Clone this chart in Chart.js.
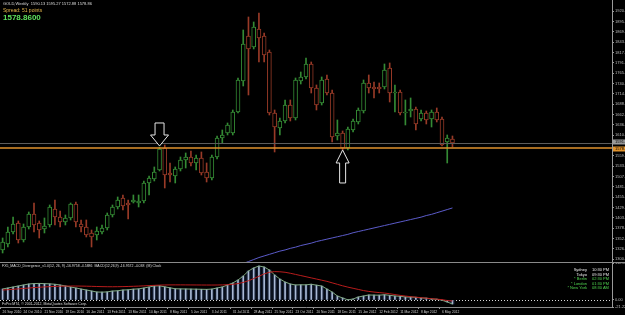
<!DOCTYPE html>
<html>
<head>
<meta charset="utf-8">
<script src="https://cdn.jsdelivr.net/npm/chart.js@4.4.0/dist/chart.umd.min.js"></script>
<style>
  html, body { margin: 0; padding: 0; background: #000; width: 625px; height: 315px; overflow: hidden; }
  body { font-family: "Liberation Sans", Arial, sans-serif; position: relative; }
  #main { position: absolute; left: 0; top: 0; width: 625px; height: 262px; border-bottom: 1px solid #8a8a8a; }
  #macd { position: absolute; left: 0; top: 263px; width: 625px; height: 52px; }
  .txt { position: absolute; white-space: nowrap; transform-origin: left top; }
  .clock { position: absolute; left: 560px; top: 268px; font-size: 4px; line-height: 4.6px; }
  .clock div { white-space: nowrap; }
  .clock span.n { display: inline-block; width: 27px; text-align: right; }
  .clock span.t { display: inline-block; margin-left: 5px; }
</style>
</head>
<body>
<div id="main"><canvas id="mainChart" width="625" height="262"></canvas></div>
<div id="macd"><canvas id="macdChart" width="625" height="52"></canvas></div>

<div class="txt" style="left:3px;top:1px;font-size:4px;color:#ddd;">GOLD,Weekly&nbsp; 1590.13 1595.27 1572.88 1578.86</div>
<div class="txt" style="left:3px;top:7px;font-size:5px;color:#e3b54a;">Spread: 51 points</div>
<div class="txt" style="left:3px;top:13px;font-size:8px;font-weight:bold;color:#5ee05e;">1578.8600</div>
<div class="txt" style="left:2px;top:264px;font-size:3.5px;color:#ddd;">FX5_MACD_Divergence_v1.0(12, 26, 9) -16.9758 -4.5886&nbsp; MACD(12,26,9) -16.9572 -4.038&nbsp; (M) Clock</div>
<div class="txt" style="left:2px;top:302px;font-size:3.5px;color:#ddd;">FxPro MT4, © 2001-2012, MetaQuotes Software Corp.</div>
<div class="clock">
  <div style="color:#e8e8e8"><span class="n">Sydney</span><span class="t">10:30 PM</span></div>
  <div style="color:#e8e8e8"><span class="n">Tokyo</span><span class="t">09:30 PM</span></div>
  <div style="color:#4fd34f"><span class="n">* Berlin</span><span class="t">02:30 PM</span></div>
  <div style="color:#4fd34f"><span class="n">* London</span><span class="t">01:30 PM</span></div>
  <div style="color:#4fd34f"><span class="n">* New York</span><span class="t">08:30 AM</span></div>
</div>

<script>
// GOLD weekly candles, 26 Sep 2010 .. 20 May 2012
const opens = [
  1323.9, 1338.9, 1368.9, 1391.4, 1348.9, 1381.4, 1413.9, 1391.4, 1376.4, 1386.4,
  1426.4, 1406.4, 1393.9, 1403.9, 1438.9, 1388.9, 1381.4, 1366.4, 1361.4, 1368.9,
  1378.9, 1411.4, 1431.4, 1453.9, 1441.4, 1443.9, 1441.4, 1446.4, 1491.4, 1501.4,
  1523.9, 1578.9, 1516.4, 1508.9, 1526.4, 1548.9, 1556.4, 1541.4, 1553.9, 1518.9,
  1503.9, 1556.4, 1603.9, 1616.4, 1616.4, 1668.9, 1746.4, 1858.9, 1831.4, 1876.4,
  1858.9, 1818.9, 1666.4, 1628.9, 1646.4, 1686.4, 1653.9, 1746.4, 1756.4, 1788.9,
  1728.9, 1691.4, 1751.4, 1716.4, 1608.9, 1616.4, 1578.9, 1623.9, 1643.9, 1671.4,
  1741.4, 1731.4, 1731.4, 1731.4, 1778.9, 1716.4, 1718.9, 1666.4, 1671.4, 1676.4,
  1651.4, 1666.4, 1651.4, 1668.9, 1651.4, 1593.9, 1601.4
];
const highs = [
  1353.9, 1381.4, 1406.4, 1396.4, 1388.9, 1418.9, 1441.4, 1396.4, 1403.9, 1436.4,
  1448.9, 1421.4, 1411.4, 1441.4, 1443.9, 1398.9, 1398.9, 1373.9, 1381.4, 1386.4,
  1416.4, 1436.4, 1456.4, 1461.4, 1448.9, 1461.4, 1461.4, 1496.4, 1508.9, 1531.4,
  1581.4, 1586.4, 1541.4, 1531.4, 1556.4, 1566.4, 1571.4, 1561.4, 1568.9, 1541.4,
  1561.4, 1608.9, 1623.9, 1641.4, 1673.9, 1753.9, 1873.9, 1906.4, 1893.9, 1916.4,
  1866.4, 1823.9, 1673.9, 1653.9, 1698.9, 1698.9, 1753.9, 1768.9, 1803.9, 1793.9,
  1736.4, 1756.4, 1761.4, 1723.9, 1648.9, 1621.4, 1631.4, 1651.4, 1678.9, 1748.9,
  1761.4, 1743.9, 1741.4, 1788.9, 1791.4, 1736.4, 1723.9, 1698.9, 1703.9, 1681.4,
  1673.9, 1671.4, 1673.9, 1678.9, 1656.4, 1611.4, 1608.9
];
const lows = [
  1316.4, 1331.4, 1363.9, 1341.4, 1343.9, 1376.4, 1368.9, 1353.9, 1366.4, 1381.4,
  1386.4, 1381.4, 1386.4, 1398.9, 1381.4, 1368.9, 1356.4, 1331.4, 1348.9, 1363.9,
  1373.9, 1406.4, 1426.4, 1423.9, 1401.4, 1441.4, 1431.4, 1441.4, 1461.4, 1496.4,
  1521.4, 1478.9, 1493.9, 1491.4, 1521.4, 1528.9, 1533.9, 1523.9, 1511.4, 1493.9,
  1498.9, 1551.4, 1591.4, 1611.4, 1611.4, 1666.4, 1733.9, 1711.4, 1826.4, 1793.9,
  1793.9, 1661.4, 1568.9, 1611.4, 1641.4, 1646.4, 1648.9, 1738.9, 1751.4, 1716.4,
  1673.9, 1686.4, 1711.4, 1593.9, 1598.9, 1573.9, 1573.9, 1618.9, 1638.9, 1666.4,
  1716.4, 1703.9, 1716.4, 1726.4, 1693.9, 1668.9, 1661.4, 1636.4, 1656.4, 1623.9,
  1646.4, 1638.9, 1631.4, 1643.9, 1583.9, 1541.4, 1581.4
];
const closes = [
  1343.9, 1368.9, 1388.9, 1348.9, 1381.4, 1413.9, 1386.4, 1373.9, 1383.9, 1431.4,
  1406.4, 1393.9, 1403.9, 1438.9, 1393.9, 1381.4, 1361.4, 1356.4, 1371.4, 1378.9,
  1411.4, 1431.4, 1448.9, 1433.9, 1436.4, 1448.9, 1446.4, 1491.4, 1503.9, 1518.9,
  1576.4, 1511.4, 1511.4, 1526.4, 1548.9, 1556.4, 1541.4, 1553.9, 1516.4, 1503.9,
  1556.4, 1603.9, 1611.4, 1636.4, 1668.9, 1748.9, 1838.9, 1826.4, 1881.4, 1853.9,
  1811.4, 1666.4, 1631.4, 1646.4, 1686.4, 1653.9, 1748.9, 1756.4, 1788.9, 1728.9,
  1686.4, 1748.9, 1716.4, 1606.4, 1616.4, 1578.9, 1626.4, 1646.4, 1673.9, 1741.4,
  1728.9, 1726.4, 1726.4, 1773.9, 1716.4, 1718.9, 1666.4, 1668.9, 1676.4, 1638.9,
  1666.4, 1648.9, 1668.9, 1648.9, 1586.4, 1603.9, 1591.4
];
// long moving average (blue line), off the bottom of the window before bar 44
const maLine = [
  null, null, null, null, null, null, null, null, null, null,
  null, null, null, null, null, null, null, null, null, null,
  null, null, null, null, null, null, null, null, null, null,
  null, null, null, null, null, null, null, null, null, null,
  null, null, null, null, 1280, 1285, 1290, 1295, 1300, 1305,
  1309, 1313, 1317, 1321, 1324, 1328, 1331, 1335, 1338, 1341,
  1345, 1348, 1351, 1354, 1357, 1360, 1363, 1367, 1370, 1373,
  1376, 1379, 1382, 1385, 1388, 1391, 1394, 1397, 1400, 1403,
  1406, 1410, 1413, 1417, 1421, 1425, 1429
];
const macdMain = [
  33.3, 36.4, 39.4, 42.4, 45.5, 48.5, 49.8, 50.2, 49.6, 48.9,
  47.8, 45.5, 42.4, 39.4, 36.4, 33.3, 30.3, 27.3, 24.2, 23.8,
  24.6, 27.1, 28.0, 30.3, 30.8, 32.9, 33.6, 36.4, 39.4, 42.4,
  43.0, 39.8, 36.9, 34.1, 33.6, 33.4, 33.1, 32.8, 32.5, 32.2,
  33.0, 36.4, 39.4, 45.5, 51.5, 60.6, 72.7, 87.9, 97.0, 103.0,
  100.0, 90.9, 75.8, 63.6, 54.5, 48.5, 45.5, 46.1, 45.9, 47.8,
  45.0, 42.4, 33.3, 24.2, 12.1, 6.1, 0.5, 3.0, 9.1, 12.1,
  15.2, 14.8, 14.6, 15.9, 14.2, 12.1, 11.4, 9.1, 8.8, 8.3,
  6.1, 5.6, 3.0, 2.4, -0.6, -6.1, -12.1
];
const macdSignal = [
  30.3, 31.2, 32.4, 33.6, 34.9, 36.2, 37.5, 38.6, 39.6, 40.5,
  41.2, 41.8, 42.1, 42.3, 42.3, 42.1, 41.8, 41.4, 40.9, 40.5,
  40.2, 40.1, 40.3, 40.6, 41.0, 41.5, 42.1, 42.8, 43.6, 44.4,
  45.1, 45.5, 45.7, 45.8, 45.8, 45.7, 45.6, 45.5, 45.4, 45.3,
  45.3, 45.4, 45.7, 46.3, 47.5, 49.7, 53.3, 58.4, 64.8, 72.0,
  79.0, 84.0, 86.0, 85.5, 84.0, 81.0, 77.5, 74.0, 70.5, 67.0,
  63.5, 60.0, 56.5, 52.0, 47.5, 43.0, 39.0, 35.5, 32.0, 28.5,
  26.0, 24.0, 22.5, 21.0, 19.0, 16.5, 14.0, 12.0, 10.0, 8.5,
  7.0, 5.5, 4.0, 2.5, 1.0, -1.5, -3.0
];
// one date label every 4 bars
const dateLabels = [
  '26 Sep 2010', '24 Oct 2010', '21 Nov 2010', '19 Dec 2010', '16 Jan 2011', '13 Feb 2011',
  '13 Mar 2011', '10 Apr 2011', '8 May 2011', '5 Jun 2011', '3 Jul 2011', '31 Jul 2011',
  '28 Aug 2011', '25 Sep 2011', '23 Oct 2011', '20 Nov 2011', '18 Dec 2011', '15 Jan 2012',
  '12 Feb 2012', '11 Mar 2012', '8 Apr 2012', '6 May 2012'
];
const priceTicks = [
  1920.95, 1895.10, 1869.25, 1843.40, 1817.55, 1791.70, 1765.85, 1740.00, 1714.15, 1688.30,
  1662.45, 1636.60, 1610.75, 1559.05, 1533.20, 1507.35, 1481.50, 1455.65, 1429.80, 1403.95,
  1378.10, 1352.25, 1326.40, 1300.55
];
const macdTicks = [112.09, 0, -21.224];
const orangeLevel = 1578.86;
const bidLevel = 1591.40;
const arrowMarks = [
  { bar: 30, price: 1583.9, dir: 'down' },
  { bar: 65, price: 1573.9, dir: 'up' }
];
const totalSlots = 117; // bars + empty shift area on the right

const slots = Array.from({ length: totalSlots }, (_, i) => i);
const candleCol = opens.map((o, i) => (closes[i] >= o ? '#348a34' : '#983a27'));
const tinyFont = { family: '"Liberation Sans", Arial, sans-serif', size: 4 };

function drawArrow(ctx, tx, ty, dir) {
  const s = dir === 'down' ? -1 : 1;
  const hw = dir === 'down' ? 9 : 6.5;   // head half width
  const sw = dir === 'down' ? 4.5 : 3;   // shaft half width
  const hh = dir === 'down' ? 11 : 13;   // head height
  const len = dir === 'down' ? 23 : 33;
  ctx.beginPath();
  ctx.moveTo(tx, ty);
  ctx.lineTo(tx + hw, ty + s * hh);
  ctx.lineTo(tx + sw, ty + s * hh);
  ctx.lineTo(tx + sw, ty + s * len);
  ctx.lineTo(tx - sw, ty + s * len);
  ctx.lineTo(tx - sw, ty + s * hh);
  ctx.lineTo(tx - hw, ty + s * hh);
  ctx.closePath();
  ctx.fillStyle = '#000';
  ctx.fill();
  ctx.strokeStyle = '#e6e6e6';
  ctx.lineWidth = 1;
  ctx.stroke();
}

function axisBox(ctx, left, yc, bg, fg, text) {
  ctx.fillStyle = bg;
  ctx.fillRect(left, yc - 2.5, 625 - left, 5);
  ctx.fillStyle = fg;
  ctx.font = '4px "Liberation Sans", Arial, sans-serif';
  ctx.textBaseline = 'middle';
  ctx.fillText(text, left + 2, yc);
}

const levelsPlugin = {
  id: 'levels',
  afterDatasetsDraw(chart) {
    const { ctx, chartArea: a, scales: { x, y } } = chart;
    ctx.save();
    const yb = Math.round(y.getPixelForValue(bidLevel)) + 0.5;
    ctx.strokeStyle = '#5c5c5c';
    ctx.lineWidth = 1;
    ctx.beginPath(); ctx.moveTo(a.left, yb); ctx.lineTo(a.right, yb); ctx.stroke();
    const yo = Math.round(y.getPixelForValue(orangeLevel));
    ctx.strokeStyle = '#e0922c';
    ctx.lineWidth = 1.6;
    ctx.beginPath(); ctx.moveTo(a.left, yo); ctx.lineTo(a.right, yo); ctx.stroke();
    arrowMarks.forEach((m) => {
      drawArrow(ctx, x.getPixelForValue(m.bar), y.getPixelForValue(m.price), m.dir);
    });
    ctx.restore();
  },
  afterDraw(chart) {
    const { ctx, chartArea: a, scales: { y } } = chart;
    ctx.save();
    axisBox(ctx, a.right + 1, y.getPixelForValue(bidLevel) - 1, '#9a9a9a', '#000', bidLevel.toFixed(2));
    axisBox(ctx, a.right + 1, y.getPixelForValue(orangeLevel) + 1, '#e0922c', '#000', orangeLevel.toFixed(2));
    ctx.restore();
  }
};

new Chart(document.getElementById('mainChart'), {
  type: 'bar',
  data: {
    labels: slots,
    datasets: [
      { type: 'line', data: maLine, borderColor: '#5b5bc9', borderWidth: 1, pointRadius: 0, order: 0 },
      {
        data: opens.map((o, i) => [lows[i], highs[i]]),
        backgroundColor: candleCol, barThickness: 1, grouped: false, order: 2
      },
      {
        data: opens.map((o, i) => [o, closes[i]]),
        backgroundColor: '#000', borderColor: candleCol, borderWidth: 1,
        borderSkipped: false, barThickness: 4, grouped: false, order: 1
      }
    ]
  },
  options: {
    responsive: false,
    animation: false,
    layout: { padding: 0 },
    plugins: { legend: { display: false }, tooltip: { enabled: false } },
    scales: {
      x: { display: false, offset: true },
      y: {
        position: 'right',
        min: 1293.86,
        max: 1948.86,
        afterBuildTicks: (s) => { s.ticks = priceTicks.map((v) => ({ value: v })); },
        afterFit: (s) => { s.width = 13; s.paddingTop = 0; s.paddingBottom = 0; },
        ticks: { font: tinyFont, color: '#bdbdbd', padding: 1, callback: (v) => v.toFixed(2) },
        grid: { display: true, drawOnChartArea: false, drawTicks: true, tickLength: 2, color: '#999' },
        border: { display: true, color: '#9a9a9a' }
      }
    }
  },
  plugins: [levelsPlugin]
});

const zeroLinePlugin = {
  id: 'zeroLine',
  beforeDatasetsDraw(chart) {
    const { ctx, chartArea: a, scales: { y } } = chart;
    const y0 = Math.round(y.getPixelForValue(0)) + 0.5;
    ctx.save();
    ctx.strokeStyle = '#d8d8d8';
    ctx.lineWidth = 1;
    ctx.setLineDash([1, 2]);
    ctx.beginPath(); ctx.moveTo(a.left, y0); ctx.lineTo(a.right, y0); ctx.stroke();
    ctx.restore();
  }
};

new Chart(document.getElementById('macdChart'), {
  type: 'bar',
  data: {
    labels: slots,
    datasets: [
      { type: 'line', data: macdSignal, borderColor: '#b81c1c', borderWidth: 1, pointRadius: 0, order: 0 },
      { type: 'line', data: macdMain, borderColor: '#7fa77f', borderWidth: 1, pointRadius: 0, order: 1 },
      { data: macdMain, backgroundColor: '#a9b9d6', barThickness: 1, grouped: false, order: 2 },
      { data: macdMain, backgroundColor: '#0f182b', barThickness: 4, grouped: false, order: 3 }
    ]
  },
  options: {
    responsive: false,
    animation: false,
    layout: { padding: 0 },
    plugins: { legend: { display: false }, tooltip: { enabled: false } },
    scales: {
      x: {
        offset: true,
        afterFit: (s) => { s.height = 8; s.paddingLeft = 0; s.paddingRight = 0; },
        ticks: {
          autoSkip: false, maxRotation: 0, minRotation: 0, align: 'start',
          font: { family: '"Liberation Sans", Arial, sans-serif', size: 3.3 }, color: '#cfcfcf', padding: 1,
          callback: (v, i) => (i % 4 === 0 && dateLabels[i / 4] ? dateLabels[i / 4] : '')
        },
        grid: {
          display: true, drawOnChartArea: false, tickLength: 2,
          color: (c) => (c.index % 4 === 0 && c.index <= 84 ? '#9a9a9a' : 'rgba(0,0,0,0)')
        },
        border: { display: true, color: '#8a8a8a' }
      },
      y: {
        position: 'right',
        min: -21.224,
        max: 112.09,
        afterBuildTicks: (s) => { s.ticks = macdTicks.map((v) => ({ value: v })); },
        afterFit: (s) => { s.width = 13; s.paddingTop = 0; s.paddingBottom = 0; },
        ticks: { font: tinyFont, color: '#bdbdbd', padding: 1, callback: (v) => (v === 0 ? '0.00' : String(v)) },
        grid: { display: true, drawOnChartArea: false, tickLength: 2, color: '#999' },
        border: { display: true, color: '#9a9a9a' }
      }
    }
  },
  plugins: [zeroLinePlugin]
});
</script>
</body>
</html>
